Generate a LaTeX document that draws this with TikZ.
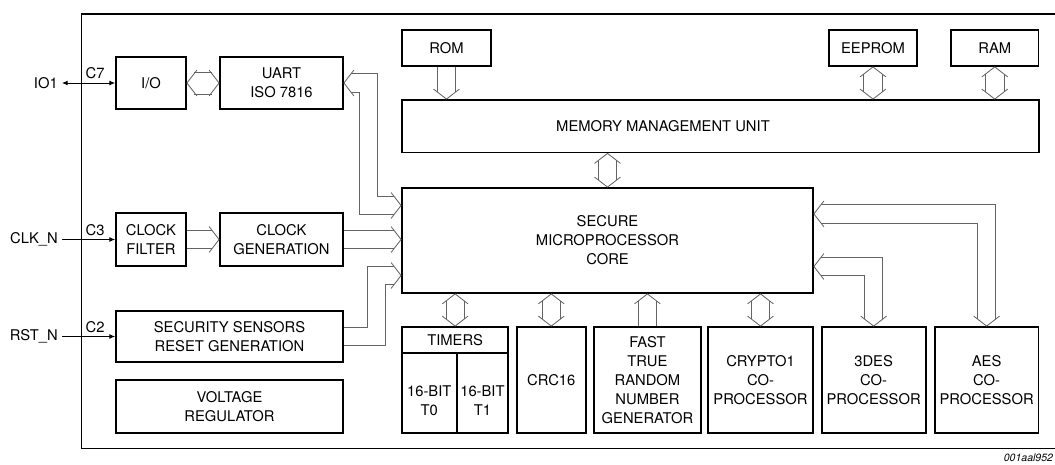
\documentclass[tikz,border=0pt]{standalone}
\usepackage{fontspec}
\setmainfont{TeX Gyre Heros}
\usepackage{tikz}
\usetikzlibrary{arrows.meta}
\definecolor{busgray}{RGB}{100,100,100}
\newcommand{\blkfont}{\fontsize{10.5}{13.5}\selectfont}
\newlength{\busd}\setlength{\busd}{0.23cm}

\tikzset{
  busline/.style={draw=busgray, line width=0.6pt},
  cutstart/.style={shorten <=5pt},
  cutend/.style={shorten >=5pt},
  chev/.pic={\draw[busline] (-7.1pt,9.2pt) -- (0,0) -- (-7.1pt,-9.2pt);}
}
% pair of bus lines, vertical / horizontal
\newcommand{\vbus}[3]{%
  \draw[busline,#1] ([xshift=-\busd]#2) -- ([xshift=-\busd]#3);
  \draw[busline,#1] ([xshift=\busd]#2) -- ([xshift=\busd]#3);}
\newcommand{\hbus}[3]{%
  \draw[busline,#1] ([yshift=-\busd]#2) -- ([yshift=-\busd]#3);
  \draw[busline,#1] ([yshift=\busd]#2) -- ([yshift=\busd]#3);}

\begin{document}
\begin{tikzpicture}[
  box/.style={draw, line width=1.3pt, inner sep=0pt, align=center, font=\blkfont},
  pinlbl/.style={inner sep=0.1cm, font=\blkfont},
  pinno/.style={inner sep=1pt, font=\blkfont},
  pinline/.style={line width=0.6pt, -{Latex[length=4pt,width=3.4pt]}}
]
\useasboundingbox (0,0) rectangle (26.375,11.6);

% chip outline
\draw[line width=1.3pt] (2.0375,0.3875) rectangle (26.6,11.25);

% interface blocks
\node[box, minimum width=1.75cm, minimum height=1.3cm] (io) at (3.775,9.525) {I/O};
\node[box, minimum width=3.075cm, minimum height=1.3cm] (uart) at (7.0375,9.525) {UART\\ISO 7816};
\node[box, minimum width=1.75cm, minimum height=1.325cm] (clkf) at (3.775,5.6125) {CLOCK\\FILTER};
\node[box, minimum width=3.075cm, minimum height=1.325cm] (clkg) at (7.0375,5.6125) {CLOCK\\GENERATION};
\node[box, minimum width=5.675cm, minimum height=1.275cm] (sens) at (5.7375,3.1875) {SECURITY SENSORS\\RESET GENERATION};
\node[box, minimum width=5.675cm, minimum height=1.325cm] (vreg) at (5.7375,1.4375) {VOLTAGE\\REGULATOR};

% pins
\node[pinlbl, anchor=east] (io1) at (1.55,9.525) {IO1};
\node[pinlbl, anchor=east] (clkn) at (1.55,5.6125) {CLK\_N};
\node[pinlbl, anchor=east] (rstn) at (1.55,3.1875) {RST\_N};
\node[pinno, anchor=south east] (c7) at ([xshift=-0.22cm, yshift=0.06cm]io.west) {C7};
\node[pinno, anchor=south east] (c3) at ([xshift=-0.22cm, yshift=0.06cm]clkf.west) {C3};
\node[pinno, anchor=south east] (c2) at ([xshift=-0.22cm, yshift=0.06cm]sens.west) {C2};
\draw[pinline, {Latex[length=4pt,width=3.4pt]}-{Latex[length=4pt,width=3.4pt]}] (io1.east) -- (io.west);
\draw[pinline] (clkn.east) -- (clkf.west);
\draw[pinline] (rstn.east) -- (sens.west);

% memories
\node[box, minimum width=2.225cm, minimum height=0.9cm] (rom) at (11.1625,10.4) {ROM};
\node[box, minimum width=2.2cm, minimum height=0.9cm] (eeprom) at (21.825,10.4) {EEPROM};
\node[box, minimum width=2.1875cm, minimum height=0.9cm] (ram) at (24.869,10.4) {RAM};
\node[box, minimum width=15.925cm, minimum height=1.3125cm] (mmu) at (18.0125,8.444) {};
\node[font=\blkfont] (mmutxt) at (16.575,8.444) {MEMORY MANAGEMENT UNIT};

% core
\node[box, minimum width=10.275cm, minimum height=2.625cm] (core) at (15.1875,5.5875) {SECURE\\MICROPROCESSOR\\CORE};

% peripherals
\node[box, minimum width=2.6575cm, minimum height=0.6425cm] (timhdr) at (11.379,3.104) {TIMERS};
\node[box, minimum width=1.365cm, minimum height=2.0075cm] (tzero) at (10.7325,1.779) {};
\node[box, minimum width=1.2925cm, minimum height=2.0075cm] (tone) at (12.061,1.779) {};
\node[font=\blkfont, align=center] (tzerotxt) at ([yshift=-0.2cm]tzero.center) {16-BIT\\T0};
\node[font=\blkfont, align=center] (tonetxt) at ([yshift=-0.2cm]tone.center) {16-BIT\\T1};
\node[box, minimum width=1.72cm, minimum height=2.65cm] (crc) at (13.7825,2.1) {CRC16};
\node[box, minimum width=2.6575cm, minimum height=2.65cm] (trng) at (16.186,2.1) {FAST\\TRUE\\RANDOM\\NUMBER\\GENERATOR};
\node[box, minimum width=2.625cm, minimum height=2.65cm] (crypto) at (19.0125,2.1) {CRYPTO1\\CO-\\PROCESSOR};
\node[box, minimum width=2.6025cm, minimum height=2.65cm] (tdes) at (21.841,2.1) {3DES\\CO-\\PROCESSOR};
\node[box, minimum width=2.5925cm, minimum height=2.65cm] (aes) at (24.666,2.1) {AES\\CO-\\PROCESSOR};

\node[font=\fontsize{7.5}{9}\selectfont\itshape, anchor=east] (figid) at (26.45,0.15) {001aal952};

% bus end points
\coordinate (clkgin) at (clkg.east -| core.west);
\coordinate (uartin) at ([yshift=0.875cm]core.west);
\coordinate (ubend) at ([xshift=-0.8125cm]uartin);
\coordinate (sensin) at ([yshift=-0.875cm]core.west);
\coordinate (sbend) at ([xshift=-0.6125cm]sensin);
\coordinate (romin) at (rom.south |- mmu.north);
\coordinate (eepin) at (eeprom.south |- mmu.north);
\coordinate (ramin) at (ram.south |- mmu.north);
\coordinate (mmuout) at (mmu.south -| core.north);
\coordinate (timin) at (core.south -| timhdr.north);
\coordinate (crcin) at (core.south -| crc.north);
\coordinate (rngin) at (core.south -| trng.north);
\coordinate (cryin) at (core.south -| crypto.north);
\coordinate (desin) at ([yshift=-0.65cm]core.east);
\coordinate (aesin) at ([yshift=0.665cm]core.east);

% left side buses
\draw[busline, cutstart, cutend] ([yshift=-0.275cm]io.east) -- ([yshift=-0.275cm]uart.west);
\draw[busline, cutstart, cutend] ([yshift=0.275cm]io.east) -- ([yshift=0.275cm]uart.west);
\pic[rotate=180] at (io.east) {chev};
\pic at (uart.west) {chev};
\hbus{cutend}{clkf.east}{clkg.west}
\pic at (clkg.west) {chev};
\hbus{cutend}{clkg.east}{clkgin}
\pic at (clkgin) {chev};
\draw[busline, cutstart, cutend] ([yshift=\busd]uart.east) -| ([shift={(\busd,\busd)}]ubend) -- ([yshift=\busd]uartin);
\draw[busline, cutstart, cutend] ([yshift=-\busd]uart.east) -| ([shift={(-\busd,-\busd)}]ubend) -- ([yshift=-\busd]uartin);
\pic[rotate=180] at (uart.east) {chev};
\pic at (uartin) {chev};
\draw[busline, cutend] ([yshift=-\busd]sens.east) -| ([shift={(\busd,-\busd)}]sbend) -- ([yshift=-\busd]sensin);
\draw[busline, cutend] ([yshift=\busd]sens.east) -| ([shift={(-\busd,\busd)}]sbend) -- ([yshift=\busd]sensin);
\pic at (sensin) {chev};

% memory buses
\vbus{cutend}{rom.south}{romin}
\pic[rotate=-90] at (romin) {chev};
\vbus{cutstart, cutend}{eeprom.south}{eepin}
\pic[rotate=90] at (eeprom.south) {chev};
\pic[rotate=-90] at (eepin) {chev};
\vbus{cutstart, cutend}{ram.south}{ramin}
\pic[rotate=90] at (ram.south) {chev};
\pic[rotate=-90] at (ramin) {chev};
\vbus{cutstart, cutend}{mmuout}{core.north}
\pic[rotate=90] at (mmuout) {chev};
\pic[rotate=-90] at (core.north) {chev};

% peripheral buses
\vbus{cutstart, cutend}{timin}{timhdr.north}
\pic[rotate=90] at (timin) {chev};
\pic[rotate=-90] at (timhdr.north) {chev};
\vbus{cutstart, cutend}{crcin}{crc.north}
\pic[rotate=90] at (crcin) {chev};
\pic[rotate=-90] at (crc.north) {chev};
\vbus{cutend}{trng.north}{rngin}
\pic[rotate=90] at (rngin) {chev};
\vbus{cutstart, cutend}{cryin}{crypto.north}
\pic[rotate=90] at (cryin) {chev};
\pic[rotate=-90] at (crypto.north) {chev};
\draw[busline, cutstart, cutend] ([yshift=\busd]desin) -| ([xshift=\busd]tdes.north);
\draw[busline, cutstart, cutend] ([yshift=-\busd]desin) -| ([xshift=-\busd]tdes.north);
\pic[rotate=180] at (desin) {chev};
\pic[rotate=-90] at (tdes.north) {chev};
\draw[busline, cutstart, cutend] ([yshift=\busd]aesin) -| ([xshift=\busd]aes.north);
\draw[busline, cutstart, cutend] ([yshift=-\busd]aesin) -| ([xshift=-\busd]aes.north);
\pic[rotate=180] at (aesin) {chev};
\pic[rotate=-90] at (aes.north) {chev};

\end{tikzpicture}
\end{document}
